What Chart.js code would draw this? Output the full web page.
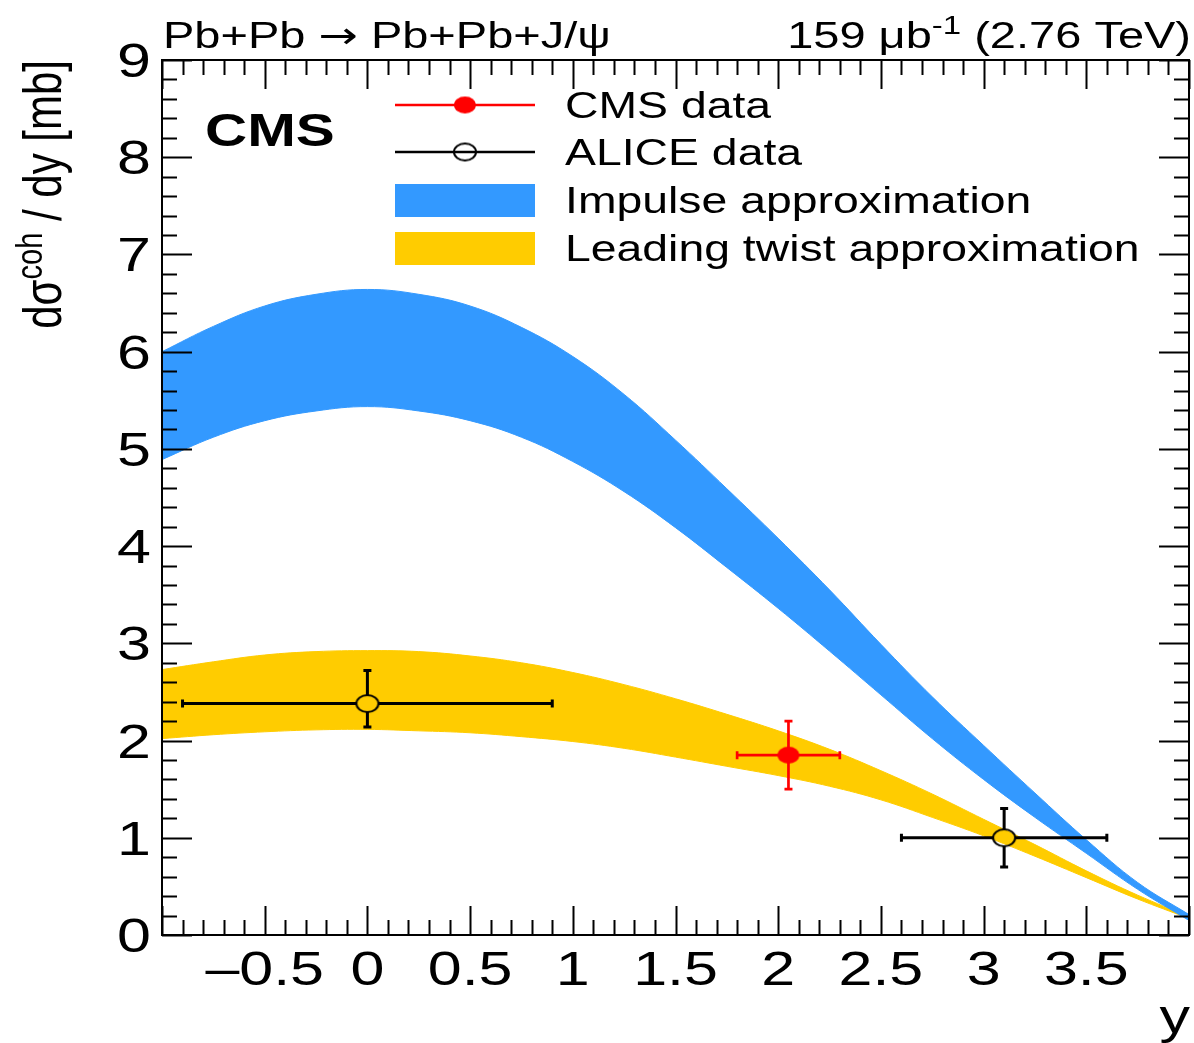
<!DOCTYPE html>
<html>
<head>
<meta charset="utf-8">
<script src="https://cdn.jsdelivr.net/npm/chart.js@4/dist/chart.umd.min.js"></script>
<style>
  html, body { margin: 0; padding: 0; background: #fff; }
</style>
</head>
<body>
<canvas id="myChart" width="1194" height="1043"></canvas>
<script>
// theory bands
var bandX        = [-1, -0.75, -0.5, -0.25, 0, 0.25, 0.5, 0.75, 1, 1.25, 1.5, 1.75, 2, 2.25, 2.5, 2.75, 3, 3.25, 3.5, 3.75, 4];
var impulseHigh  = [6.00, 6.26, 6.47, 6.59, 6.64, 6.59, 6.47, 6.25, 5.95, 5.56, 5.09, 4.59, 4.08, 3.55, 2.99, 2.45, 1.95, 1.46, 0.98, 0.54, 0.21];
var impulseLow   = [4.89, 5.12, 5.29, 5.39, 5.435, 5.39, 5.29, 5.12, 4.87, 4.56, 4.19, 3.78, 3.36, 2.92, 2.47, 2.02, 1.60, 1.21, 0.84, 0.47, 0.15];
var twistHigh    = [2.73, 2.81, 2.88, 2.915, 2.925, 2.915, 2.87, 2.80, 2.70, 2.575, 2.43, 2.27, 2.10, 1.91, 1.69, 1.45, 1.19, 0.93, 0.66, 0.41, 0.19];
var twistLow     = [2.02, 2.06, 2.09, 2.11, 2.115, 2.10, 2.08, 2.04, 1.99, 1.92, 1.83, 1.735, 1.64, 1.53, 1.39, 1.21, 1.02, 0.81, 0.59, 0.37, 0.17];

// measurements
var cmsRap      = [2.05];
var cmsRapLow   = [1.8];
var cmsRapHigh  = [2.3];
var cmsXsec     = [1.85];
var cmsErrUp    = [0.35];
var cmsErrDown  = [0.35];

var aliceRap     = [0, 3.1];
var aliceRapLow  = [-0.9, 2.6];
var aliceRapHigh = [0.9, 3.6];
var aliceXsec    = [2.38, 1.00];
var aliceErrUp   = [0.34, 0.30];
var aliceErrDown = [0.24, 0.30];

// axis labels
var xTickVals = [-0.5, 0, 0.5, 1, 1.5, 2, 2.5, 3, 3.5];
var xTickText = ['\u20130.5', '0', '0.5', '1', '1.5', '2', '2.5', '3', '3.5'];
var yTickVals = [0, 1, 2, 3, 4, 5, 6, 7, 8, 9];

var legendNames = ['CMS data', 'ALICE data', 'Impulse approximation', 'Leading twist approximation'];

var BLUE = '#3399ff';
var YELLOW = '#ffcc00';
var STRETCH = 1.27;   // the reference is wider than tall
var FONT = '"Liberation Sans", Arial, Helvetica, sans-serif';
var MRX = 11, MRY = 8.5;

function ellipseMarker(fill, stroke) {
  var c = document.createElement('canvas');
  c.width = 2 * MRX + 4; c.height = 2 * MRY + 4;
  var g = c.getContext('2d');
  g.beginPath();
  g.ellipse(c.width / 2, c.height / 2, MRX, MRY, 0, 0, 2 * Math.PI);
  if (fill) { g.fillStyle = fill; g.fill(); }
  if (stroke) { g.lineWidth = 2; g.strokeStyle = stroke; g.stroke(); }
  return c;
}
var cmsMarker = ellipseMarker('#ff0000', null);
var aliceMarker = ellipseMarker(null, '#000000');

function sText(ctx, txt, x, y, size, align, weight, family) {
  ctx.save();
  ctx.font = (weight || 'normal') + ' ' + size + 'px ' + (family || FONT);
  ctx.textAlign = align || 'left';
  ctx.textBaseline = 'alphabetic';
  ctx.fillStyle = '#000';
  ctx.translate(x, y);
  ctx.scale(STRETCH, 1);
  ctx.fillText(txt, 0, 0);
  ctx.restore();
}

function textWidth(ctx, txt, size, family) {
  ctx.save();
  ctx.font = 'normal ' + size + 'px ' + (family || FONT);
  var w = ctx.measureText(txt).width;
  ctx.restore();
  return w;
}

// runs of [text, size, raise, family] written left to right
function textRuns(ctx, runs, x, y) {
  runs.forEach(function (q) {
    sText(ctx, q[0], x, y - q[2], q[1], 'left', 'normal', q[3]);
    x += textWidth(ctx, q[0], q[1], q[3]) * STRETCH;
  });
}

function runsWidth(ctx, runs) {
  var w = 0;
  runs.forEach(function (q) { w += textWidth(ctx, q[0], q[1], q[3]) * STRETCH; });
  return w;
}

function pts(xs, ys) {
  return xs.map(function (x, i) { return { x: x, y: ys[i] }; });
}

function errorBars(ctx, xs, ys, rap, lo, hi, val, up, down, color, width, gapX, gapY) {
  ctx.save();
  ctx.strokeStyle = color;
  ctx.lineWidth = width;
  ctx.lineCap = 'butt';
  for (var i = 0; i < rap.length; i++) {
    var cx = xs.getPixelForValue(rap[i]);
    var cy = ys.getPixelForValue(val[i]);
    var xl = xs.getPixelForValue(lo[i]);
    var xh = xs.getPixelForValue(hi[i]);
    var yt = ys.getPixelForValue(val[i] + up[i]);
    var yb = ys.getPixelForValue(val[i] - down[i]);
    ctx.beginPath();
    ctx.moveTo(xl, cy); ctx.lineTo(cx - gapX, cy);
    ctx.moveTo(cx + gapX, cy); ctx.lineTo(xh, cy);
    ctx.moveTo(cx, yt); ctx.lineTo(cx, cy - gapY);
    ctx.moveTo(cx, cy + gapY); ctx.lineTo(cx, yb);
    // caps
    ctx.moveTo(xl, cy - 4); ctx.lineTo(xl, cy + 4);
    ctx.moveTo(xh, cy - 4); ctx.lineTo(xh, cy + 4);
    ctx.moveTo(cx - 4, yt); ctx.lineTo(cx + 4, yt);
    ctx.moveTo(cx - 4, yb); ctx.lineTo(cx + 4, yb);
    ctx.stroke();
  }
  ctx.restore();
}

var decorations = {
  id: 'decorations',
  afterDatasetDraw: function (chart, args) {
    // error bars go on top of the bands, under the markers
    if (args.index !== 2) return;
    var ctx = chart.ctx, xs = chart.scales.x, ys = chart.scales.y;
    errorBars(ctx, xs, ys, aliceRap, aliceRapLow, aliceRapHigh, aliceXsec, aliceErrUp, aliceErrDown, '#000', 3, MRX, MRY);
    errorBars(ctx, xs, ys, cmsRap, cmsRapLow, cmsRapHigh, cmsXsec, cmsErrUp, cmsErrDown, '#ff0000', 2.7, 0, 0);
  },
  afterDraw: function (chart) {
    var ctx = chart.ctx, a = chart.chartArea, xs = chart.scales.x, ys = chart.scales.y;
    ctx.save();
    ctx.strokeStyle = '#000';
    ctx.lineWidth = 2;
    ctx.beginPath();
    var i, v, p, len;
    for (i = 0; i <= 50; i++) {
      v = -1 + i * 0.1;
      p = Math.round(xs.getPixelForValue(v)) + 0.5;
      len = (i % 5 === 0) ? 29 : 15;
      ctx.moveTo(p, a.bottom); ctx.lineTo(p, a.bottom - len);
      ctx.moveTo(p, a.top); ctx.lineTo(p, a.top + len);
    }
    for (i = 0; i <= 45; i++) {
      v = i * 0.2;
      p = Math.round(ys.getPixelForValue(v)) + 0.5;
      len = (i % 5 === 0) ? 30 : 15;
      ctx.moveTo(a.left, p); ctx.lineTo(a.left + len, p);
      ctx.moveTo(a.right, p); ctx.lineTo(a.right - len, p);
    }
    ctx.stroke();
    ctx.strokeRect(a.left, a.top, a.right - a.left, a.bottom - a.top);
    ctx.restore();

    // tick labels
    xTickVals.forEach(function (val, k) {
      sText(ctx, xTickText[k], xs.getPixelForValue(val), 985, 48, 'center');
    });
    yTickVals.forEach(function (val) {
      sText(ctx, String(val), 151, ys.getPixelForValue(val) + 17, 48, 'right');
    });

    // axis titles
    sText(ctx, 'y', 1190, 1033, 48, 'right');
    ctx.save();
    ctx.fillStyle = '#000';
    ctx.textBaseline = 'alphabetic';
    ctx.textAlign = 'left';
    var parts = [['d\u03c3', 42, 0], ['coh', 29, 15], [' / dy [mb]', 42, 0]];
    var total = 0;
    parts.forEach(function (q) { total += textWidth(ctx, q[0], q[1]); });
    ctx.translate(61, a.top + total);
    ctx.scale(STRETCH, 1);
    ctx.rotate(-Math.PI / 2);
    var off = 0;
    parts.forEach(function (q) {
      ctx.font = 'normal ' + q[1] + 'px ' + FONT;
      ctx.fillText(q[0], off, -q[2]);
      off += ctx.measureText(q[0]).width;
    });
    ctx.restore();

    // top texts
    textRuns(ctx, [['Pb+Pb ', 37, 0], ['\u2192', 37, 0, '"DejaVu Sans", sans-serif'], [' Pb+Pb+J/\u03c8', 37, 0]], 163, 48);
    var rruns = [['159 \u03bcb', 37, 0], ['-1', 26, 14], [' (2.76 TeV)', 37, 0]];
    textRuns(ctx, rruns, 1191 - runsWidth(ctx, rruns), 48);

    sText(ctx, 'CMS', 205, 146, 46, 'left', 'bold');

    // legend
    var rows = [105, 152, 200, 248];
    ctx.save();
    ctx.lineWidth = 2.5;
    ctx.strokeStyle = '#ff0000';
    ctx.beginPath(); ctx.moveTo(395, rows[0]); ctx.lineTo(535, rows[0]); ctx.stroke();
    ctx.drawImage(cmsMarker, 465 - cmsMarker.width / 2, rows[0] - cmsMarker.height / 2);
    ctx.strokeStyle = '#000';
    ctx.beginPath(); ctx.moveTo(395, rows[1]); ctx.lineTo(535, rows[1]); ctx.stroke();
    ctx.drawImage(aliceMarker, 465 - aliceMarker.width / 2, rows[1] - aliceMarker.height / 2);
    ctx.fillStyle = BLUE;
    ctx.fillRect(395, rows[2] - 16, 140, 33);
    ctx.fillStyle = YELLOW;
    ctx.fillRect(395, rows[3] - 16, 140, 33);
    ctx.restore();
    legendNames.forEach(function (name, k) {
      sText(ctx, name, 565, rows[k] + 13, 36.5, 'left');
    });
  }
};

function bandLine(label, values, fill, color) {
  return {
    label: label,
    data: pts(bandX, values),
    showLine: true,
    fill: fill,
    backgroundColor: color,
    borderColor: color,
    borderWidth: 1,
    pointRadius: 0,
    tension: 0.4
  };
}

var ctx = document.getElementById('myChart');
var myChart = new Chart(ctx, {
  type: 'scatter',
  data: {
    datasets: [
      {
        label: legendNames[0],
        data: pts(cmsRap, cmsXsec),
        pointStyle: cmsMarker,
        pointRadius: MRX,
        showLine: false
      },
      {
        label: legendNames[1],
        data: pts(aliceRap, aliceXsec),
        pointStyle: aliceMarker,
        pointRadius: MRX,
        showLine: false
      },
      bandLine(legendNames[2], impulseHigh, '+1', BLUE),
      bandLine(legendNames[2] + ' low', impulseLow, false, BLUE),
      bandLine(legendNames[3], twistHigh, '+1', YELLOW),
      bandLine(legendNames[3] + ' low', twistLow, false, YELLOW)
    ]
  },
  options: {
    responsive: false,
    animation: false,
    layout: { autoPadding: false, padding: { top: 60, right: 5, left: 0, bottom: 0 } },
    plugins: { legend: { display: false }, tooltip: { enabled: false }, title: { display: false } },
    scales: {
      x: {
        type: 'linear', min: -1, max: 4,
        grid: { display: false }, border: { display: false },
        ticks: { display: false },
        afterFit: function (s) { s.height = 108; }
      },
      y: {
        type: 'linear', min: 0, max: 9,
        grid: { display: false }, border: { display: false },
        ticks: { display: false },
        afterFit: function (s) { s.width = 162; }
      }
    }
  },
  plugins: [decorations]
});
</script>
</body>
</html>
